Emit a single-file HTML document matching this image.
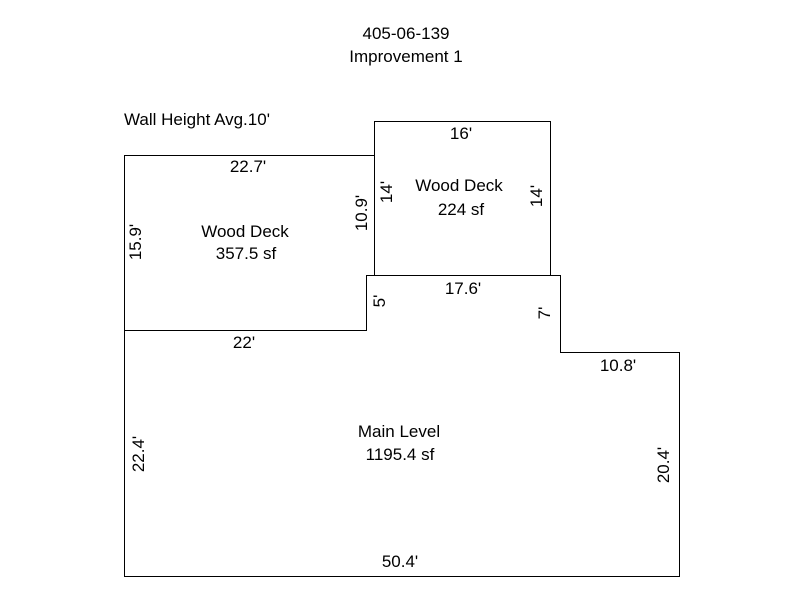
<!DOCTYPE html>
<html><head><meta charset="utf-8"><style>body{margin:0;background:#fff}svg{display:block}text{font-family:"Liberation Sans",sans-serif;font-size:17px;fill:#000}</style></head>
<body>
<svg width="800" height="600" viewBox="0 0 800 600" xmlns="http://www.w3.org/2000/svg">
<g fill="none" stroke="#000" stroke-width="1">
<polyline points="124.5,330.5 124.5,155.5 374.5,155.5"/>
<polyline points="374.5,275.5 374.5,121.5 550.5,121.5 550.5,275.5"/>
<polygon points="124.5,330.5 366.5,330.5 366.5,275.5 560.5,275.5 560.5,352.5 679.5,352.5 679.5,576.5 124.5,576.5"/>
</g>
<g text-anchor="middle">
<text x="406" y="39">405-06-139</text>
<text x="406" y="62">Improvement 1</text>
<text x="461" y="139">16'</text>
<text x="459" y="191">Wood Deck</text>
<text x="461" y="215">224 sf</text>
<text x="248" y="172">22.7'</text>
<text x="245" y="237">Wood Deck</text>
<text x="246" y="259">357.5 sf</text>
<text x="463" y="294">17.6'</text>
<text x="244" y="348">22'</text>
<text x="618" y="371">10.8'</text>
<text x="399" y="437">Main Level</text>
<text x="400" y="460">1195.4 sf</text>
<text x="400" y="567">50.4'</text>
<text transform="translate(392,192) rotate(-90)">14'</text>
<text transform="translate(542,196) rotate(-90)">14'</text>
<text transform="translate(367,213) rotate(-90)">10.9'</text>
<text transform="translate(141,242) rotate(-90)">15.9'</text>
<text transform="translate(385,301) rotate(-90)">5'</text>
<text transform="translate(550,313) rotate(-90)">7'</text>
<text transform="translate(144,454) rotate(-90)">22.4'</text>
<text transform="translate(669,465) rotate(-90)">20.4'</text>
</g>
<text x="124" y="125">Wall Height Avg.10'</text>
</svg>
</body></html>
